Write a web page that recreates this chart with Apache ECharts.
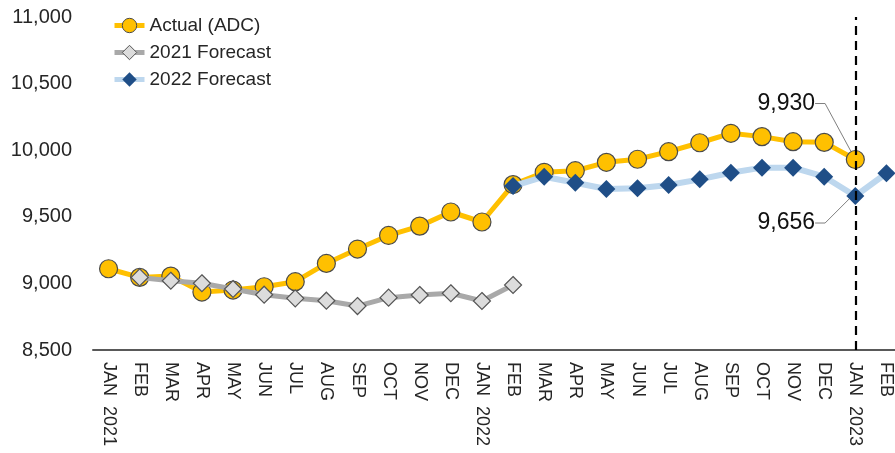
<!DOCTYPE html>
<html>
<head>
<meta charset="utf-8">
<script src="https://cdn.jsdelivr.net/npm/echarts@6/dist/echarts.min.js"></script>
<style>
html,body{margin:0;padding:0;background:#fff;}
#chart{width:895px;height:453px;}
</style>
</head>
<body>
<div id="chart"></div>
<script>
var categories = ['JAN  2021','FEB','MAR','APR','MAY','JUN','JUL','AUG','SEP','OCT','NOV','DEC',
  'JAN  2022','FEB','MAR','APR','MAY','JUN','JUL','AUG','SEP','OCT','NOV','DEC','JAN  2023','FEB'];
var actual = [9110,9045,9055,8935,8950,8975,9013,9150,9258,9360,9430,9536,
  9461,9742,9834,9846,9909,9932,9989,10056,10127,10102,10064,10059,9930,null];
var forecast2021 = [null,9045,9020,9001,8958,8915,8888,8870,8830,8893,8913,8926,
  8868,8988,null,null,null,null,null,null,null,null,null,null,null,null];
var forecast2022 = [null,null,null,null,null,null,null,null,null,null,null,null,
  null,9731,9801,9756,9709,9714,9739,9781,9831,9869,9869,9801,9656,9827];
var yTicks = {min: 8500, max: 11000, interval: 500};
var markerIndex = 24;

var FONT = '"Liberation Sans", Arial, sans-serif';

function withCallout(arr, idx) {
  return arr.map(function (v, i) {
    if (i !== idx) return v;
    return {
      value: v,
      label: {show: true},
      labelLine: {show: true}
    };
  });
}

var chart = echarts.init(document.getElementById('chart'));
chart.setOption({
  animation: false,
  backgroundColor: '#fff',
  grid: {left: 93, right: -7, top: 17, bottom: 103, outerBoundsMode: 'none', containLabel: false},
  legend: {
    orient: 'vertical',
    left: 112,
    top: 16,
    padding: 0,
    itemGap: 8,
    itemWidth: 30,
    itemHeight: 18,
    textStyle: {fontFamily: FONT, fontSize: 19, color: '#262626'},
    data: [
      {name: 'Actual (ADC)', lineStyle: {width: 5, color: '#FFC000'}, itemStyle: {color: '#FFC000', borderColor: '#4a4a4a', borderWidth: 1}},
      {name: '2021 Forecast', lineStyle: {width: 5, color: '#A9A9A9'}, itemStyle: {color: '#DCDCDC', borderColor: '#555', borderWidth: 1}},
      {name: '2022 Forecast', lineStyle: {width: 5, color: '#BDD7EE'}, itemStyle: {color: '#1F4E87', borderWidth: 0}}
    ]
  },
  xAxis: {
    type: 'category',
    data: categories,
    boundaryGap: true,
    axisLine: {lineStyle: {color: '#595959', width: 2}},
    axisTick: {show: false},
    axisLabel: {
      rotate: -90,
      interval: 0,
      margin: 12,
      fontFamily: FONT,
      fontSize: 18,
      color: '#262626'
    },
    splitLine: {show: false}
  },
  yAxis: {
    type: 'value',
    min: yTicks.min,
    max: yTicks.max,
    interval: yTicks.interval,
    axisLine: {show: false},
    axisTick: {show: false},
    splitLine: {show: false},
    axisLabel: {
      margin: 21,
      fontFamily: FONT,
      fontSize: 20,
      color: '#262626',
      formatter: function (v) { return v.toLocaleString('en-US'); }
    }
  },
  series: [
    {
      name: 'Actual (ADC)',
      type: 'line',
      data: withCallout(actual, markerIndex),
      symbol: 'circle',
      symbolSize: 18,
      z: 2,
      lineStyle: {color: '#FFC000', width: 5},
      itemStyle: {color: '#FFC000', borderColor: '#4a4a4a', borderWidth: 1.2},
      label: {
        show: false,
        position: 'inside',
        fontFamily: FONT,
        fontSize: 23,
        color: '#111',
        formatter: function (p) { return p.value.toLocaleString('en-US'); }
      },
      labelLine: {show: false, length2: 10, lineStyle: {color: '#7f7f7f', width: 1}},
      labelLayout: function (p) {
        if (p.dataIndex === markerIndex) return {dx: -69, dy: -56};
        return {};
      },
      markLine: {
        silent: true,
        symbol: 'none',
        label: {show: false},
        lineStyle: {color: '#000', type: [9, 6], width: 2.2},
        data: [{xAxis: markerIndex}]
      }
    },
    {
      name: '2021 Forecast',
      type: 'line',
      data: forecast2021,
      symbol: 'diamond',
      symbolSize: 17,
      z: 3,
      lineStyle: {color: '#A9A9A9', width: 5},
      itemStyle: {color: '#DCDCDC', borderColor: '#555', borderWidth: 1.2}
    },
    {
      name: '2022 Forecast',
      type: 'line',
      data: withCallout(forecast2022, markerIndex),
      symbol: 'diamond',
      symbolSize: 18,
      z: 4,
      lineStyle: {color: '#BDD7EE', width: 6},
      itemStyle: {color: '#1F4E87', borderColor: '#1F4E87', borderWidth: 0},
      label: {
        show: false,
        position: 'inside',
        fontFamily: FONT,
        fontSize: 23,
        color: '#111',
        formatter: function (p) { return p.value.toLocaleString('en-US'); }
      },
      labelLine: {show: false, length2: 10, lineStyle: {color: '#7f7f7f', width: 1}},
      labelLayout: function (p) {
        if (p.dataIndex === markerIndex) return {dx: -69, dy: 27};
        return {};
      }
    }
  ]
});
</script>
</body>
</html>
